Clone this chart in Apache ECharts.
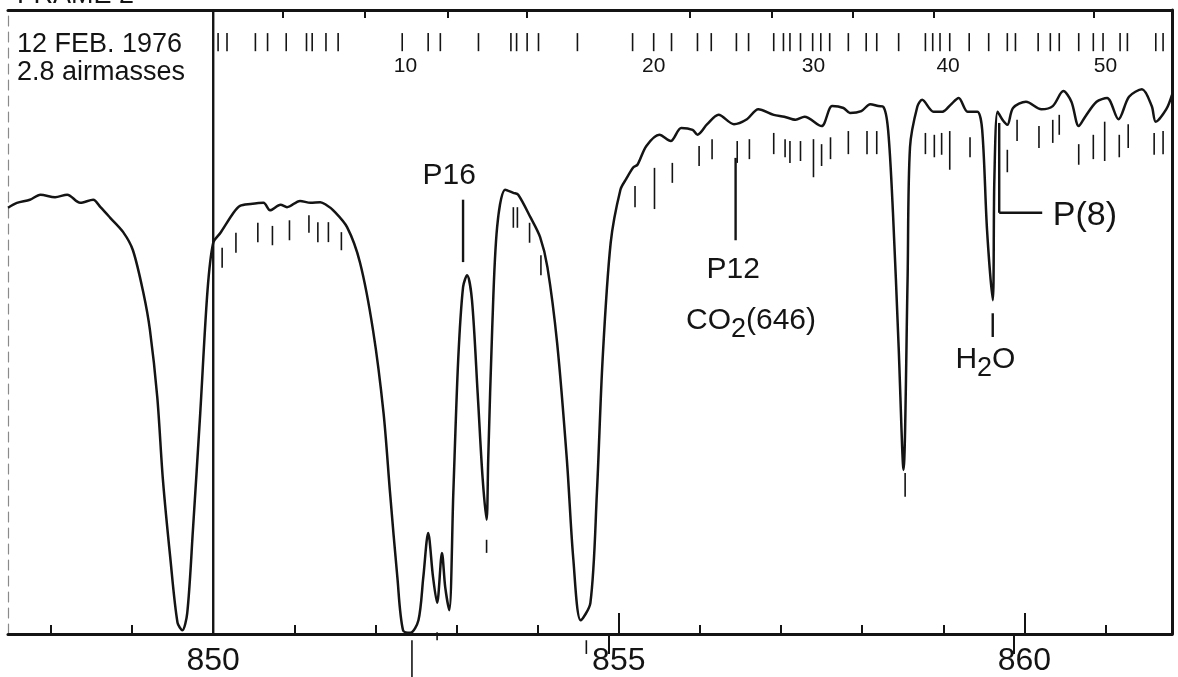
<!DOCTYPE html>
<html>
<head>
<meta charset="utf-8">
<script src="https://cdn.jsdelivr.net/npm/echarts@6/dist/echarts.min.js"></script>
<style>
  html, body { margin: 0; padding: 0; background: #fff; }
  #chart { width: 1178px; height: 677px; }
</style>
</head>
<body>
<div id="chart"></div>
<script>
'use strict';

// spectrum trace: wavenumber (cm-1) and relative signal (0 = bottom frame, 100 = top frame)
var wavenumber = [
    847.47, 847.58, 847.74, 847.87, 848.05, 848.20, 848.36, 848.52, 848.61, 848.73,
    848.89, 849.01, 849.14, 849.22, 849.31, 849.38, 849.47, 849.56, 849.62, 849.68,
    849.75, 849.84, 849.93, 850.00, 850.09, 850.25, 850.33, 850.46, 850.62, 850.70,
    850.83, 850.91, 851.07, 851.20, 851.32, 851.39, 851.48, 851.65, 851.81, 851.97,
    852.10, 852.18, 852.27, 852.34, 852.43, 852.53, 852.59, 852.65, 852.71, 852.76,
    852.82, 852.86, 852.91, 852.96, 853.02, 853.08, 853.13, 853.19, 853.26, 853.32,
    853.37, 853.39, 853.44, 853.50, 853.60, 853.70, 853.76, 853.91, 854.03, 854.12,
    854.24, 854.36, 854.44, 854.53, 854.65, 854.73, 854.80, 854.90, 855.02, 855.09,
    855.18, 855.23, 855.34, 855.50, 855.64, 855.77, 855.91, 855.97, 856.09, 856.23,
    856.42, 856.58, 856.72, 856.91, 857.04, 857.18, 857.29, 857.50, 857.63, 857.77,
    857.85, 857.99, 858.10, 858.20, 858.26, 858.32, 858.38, 858.45, 858.51, 858.56,
    858.59, 858.68, 858.74, 858.88, 858.99, 859.09, 859.19, 859.30, 859.42, 859.48,
    859.54, 859.61, 859.63, 859.67, 859.73, 859.79, 859.86, 860.02, 860.21, 860.35,
    860.48, 860.58, 860.67, 860.75, 860.89, 861.02, 861.16, 861.29, 861.45, 861.57,
    861.62, 861.75, 861.82
];
var signal = [
    68.3, 69.1, 69.6, 70.4, 70.0, 70.4, 69.1, 69.6, 68.4, 66.7,
    64.4, 61.5, 54.6, 48.7, 38.0, 24.7, 12.3, 1.8, 0.6, 3.4,
    16.7, 35.4, 55.1, 62.7, 64.3, 67.5, 68.6, 68.9, 69.1, 67.9,
    68.8, 68.4, 69.4, 69.1, 69.2, 68.8, 67.9, 65.2, 59.5, 48.7,
    35.4, 22.6, 9.1, 0.6, 0.2, 2.2, 9.1, 16.2, 9.1, 5.0,
    13.0, 7.5, 3.8, 22.6, 43.9, 55.6, 57.5, 53.5, 38.6, 25.2,
    18.3, 27.9, 49.2, 65.2, 71.2, 70.7, 70.4, 66.8, 63.6, 58.8,
    46.6, 27.9, 11.9, 2.2, 5.0, 22.6, 43.9, 62.7, 71.2, 72.9,
    74.8, 75.2, 78.2, 80.0, 79.0, 81.1, 80.8, 80.0, 81.7, 83.2,
    81.7, 82.5, 84.1, 83.2, 82.9, 82.4, 82.9, 81.4, 84.6, 84.3,
    83.5, 83.8, 84.9, 84.6, 84.5, 80.8, 67.5, 46.0, 26.3, 56.7,
    78.0, 84.5, 85.6, 83.7, 83.7, 84.8, 85.9, 83.7, 83.7, 80.8,
    64.7, 53.5, 72.8, 83.7, 82.4, 81.6, 84.3, 85.3, 84.1, 84.6,
    87.0, 85.3, 81.4, 82.9, 85.3, 85.9, 82.5, 86.1, 87.3, 84.6,
    82.1, 84.1, 86.4
];

// axis ticks
var axisLabels = [850, 855, 860];
var majorTicks = [855, 860];
var minorTicks = [848, 849, 851, 852, 853, 854, 856, 857, 858, 859, 861];
var topTicks = [850.86, 851.87, 852.89, 853.87, 855.88, 856.89, 857.89, 858.88, 860.86];
var topLongTicks = [854.87, 859.87];

// identification marks along the top row, and their numbering
var topRowMarks = [
    850.06, 850.17, 850.52, 850.67, 850.90, 851.15, 851.22, 851.39, 851.54,
    852.33, 852.65, 852.80, 853.27, 853.67, 853.74, 853.87, 854.01, 854.49,
    855.17, 855.43, 855.65, 855.97, 856.14, 856.45, 856.60, 856.91, 857.03,
    857.11, 857.24, 857.39, 857.49, 857.60, 857.83, 858.05, 858.18, 858.45,
    858.78, 858.87, 858.96, 859.08, 859.32, 859.56, 859.79, 859.89, 860.17,
    860.32, 860.43, 860.67, 860.85, 860.97, 861.18, 861.27, 861.62, 861.71
];
var topRowNumbers = ['10', '20', '30', '40', '50'];
var topRowNumberPos = [852.37, 855.43, 857.40, 859.06, 861.00];

// short line marks under the trace: [wavenumber, upper end, lower end]
var lineMarks = [
    [850.11, 61.9, 58.7], [850.28, 64.3, 61.1], [850.55, 65.9, 62.8], [850.73, 65.4, 62.3],
    [850.94, 66.3, 63.1], [851.18, 67.1, 64.3], [851.29, 66.0, 62.8], [851.42, 66.0, 62.8],
    [851.58, 64.4, 61.5], [853.70, 68.4, 65.1], [853.75, 68.4, 65.1], [853.90, 65.9, 62.7],
    [854.04, 60.7, 57.5], [853.37, 15.1, 13.0], [852.76, 0.3, -1.0], [855.20, 71.8, 68.4],
    [855.44, 74.7, 68.1], [855.66, 75.5, 72.3], [855.99, 78.2, 75.0], [856.15, 79.3, 76.1],
    [856.46, 79.0, 75.5], [856.61, 79.3, 76.1], [856.91, 80.3, 76.9], [857.05, 79.3, 76.4],
    [857.11, 79.0, 75.5], [857.24, 79.0, 75.8], [857.40, 79.3, 73.2], [857.50, 78.5, 75.0],
    [857.61, 79.6, 76.1], [857.83, 80.6, 76.9], [858.06, 80.6, 76.9], [858.18, 80.6, 76.9],
    [858.53, 25.8, 22.0], [858.78, 80.3, 76.9], [858.89, 80.0, 76.4], [858.98, 80.3, 76.8],
    [859.08, 80.6, 74.4], [859.33, 79.6, 76.4], [859.79, 77.6, 74.0], [859.91, 82.4, 79.0],
    [860.18, 81.4, 77.9], [860.35, 82.4, 78.7], [860.43, 83.2, 80.0], [860.67, 78.5, 75.2],
    [860.85, 80.0, 76.1], [860.99, 82.1, 75.8], [861.17, 80.0, 76.4], [861.28, 81.7, 77.9],
    [861.60, 80.3, 76.8], [861.71, 80.6, 76.9],
    [852.45, -1.0, -7.0], [854.60, -1.0, -3.2]
];

// annotation pointers: [x1, y1, x2, y2]
var pointers = [
    [850.00, 100, 850.00, 0],
    [853.08, 69.6, 853.08, 59.6],
    [856.44, 76.3, 856.44, 63.1],
    [859.61, 51.4, 859.61, 47.6],
    [859.69, 81.9, 859.69, 67.5],
    [859.69, 67.5, 860.22, 67.5]
];

// line names
var lineNames = ['P16', 'P12', 'CO{s|2}(646)', 'H{s|2}O'];
var lineNamePos = [[852.91, 73.4], [856.41, 58.3], [856.63, 50.2], [859.52, 43.9]];
var sideName = 'P(8)';
var sideNamePos = [860.35, 67.1];

// header
var header = ['FRAME 2', '12 FEB. 1976', '2.8 airmasses'];
var headerPos = [[847.58, 102.3], [847.58, 94.4], [847.58, 89.9]];

var X_MIN = 847.47, X_MAX = 861.82;
var INK = '#141414';
var FONT = 'Liberation Sans';

var chart = echarts.init(document.getElementById('chart'));

var curve = wavenumber.map(function (w, i) { return [w, signal[i]]; });

function baseX(pos) {
    return {
        type: 'value', min: X_MIN, max: X_MAX, position: pos,
        axisLine: { show: false },
        axisTick: { show: false },
        axisLabel: { show: false },
        splitLine: { show: false }
    };
}

var xBottom = baseX('bottom');
xBottom.axisLine = { show: true, onZero: false, lineStyle: { color: INK, width: 3 } };
xBottom.axisTick = { show: true, inside: true, length: 21, customValues: majorTicks, lineStyle: { color: INK, width: 2 } };
xBottom.axisLabel = { show: true, customValues: axisLabels, margin: 11, fontSize: 32, color: INK, fontFamily: FONT };

var xBottomMinor = baseX('bottom');
xBottomMinor.axisTick = { show: true, inside: true, length: 9, customValues: minorTicks, lineStyle: { color: INK, width: 2 } };

var xTop = baseX('top');
xTop.axisLine = { show: true, onZero: false, lineStyle: { color: INK, width: 3 } };
xTop.axisTick = { show: true, inside: true, length: 8, customValues: topTicks, lineStyle: { color: INK, width: 2 } };

var xTopLong = baseX('top');
xTopLong.axisTick = { show: true, inside: true, length: 20, customValues: topLongTicks, lineStyle: { color: INK, width: 2 } };

function vBar(width) {
    return function (params, api) {
        var a = api.coord([api.value(0), api.value(1)]);
        var b = api.coord([api.value(0), api.value(2)]);
        return {
            type: 'line',
            shape: { x1: a[0], y1: a[1], x2: b[0], y2: b[1] },
            style: { stroke: INK, lineWidth: width }
        };
    };
}

var richSub = { s: { fontSize: 27, fontFamily: FONT, fill: INK, lineHeight: 20, verticalAlign: 'bottom' } };

function textItem(texts, size, align, rich) {
    return function (params, api) {
        var p = api.coord([api.value(0), api.value(1)]);
        return {
            type: 'text',
            x: p[0], y: p[1],
            style: {
                text: texts[params.dataIndex],
                fill: INK,
                font: size + 'px "' + FONT + '"',
                align: align,
                verticalAlign: 'middle',
                lineHeight: rich ? 44 : size,
                rich: rich || {}
            }
        };
    };
}

var option = {
    backgroundColor: '#ffffff',
    animation: false,
    grid: { left: 8, right: 6, top: 10, bottom: 43, containLabel: false },
    xAxis: [xBottom, xBottomMinor, xTop, xTopLong],
    yAxis: [{
        type: 'value', min: 0, max: 100, position: 'left',
        axisLine: { show: true, lineStyle: { color: '#8a8a8a', width: 1.2, type: [10, 6] } },
        axisTick: { show: false }, axisLabel: { show: false }, splitLine: { show: false }
    }, {
        type: 'value', min: 0, max: 100, position: 'right',
        axisLine: { show: true, lineStyle: { color: INK, width: 3 } },
        axisTick: { show: false }, axisLabel: { show: false }, splitLine: { show: false }
    }],
    series: [{
        name: 'spectrum',
        type: 'line',
        data: curve,
        smooth: 0.3,
        showSymbol: false,
        lineStyle: { color: INK, width: 2.5 },
        z: 5
    }, {
        name: 'line marks',
        type: 'custom',
        clip: false,
        renderItem: vBar(1.6),
        encode: { x: 0, y: [1, 2] },
        data: lineMarks
    }, {
        name: 'top row',
        type: 'custom',
        clip: false,
        renderItem: vBar(1.6),
        encode: { x: 0, y: [1, 2] },
        data: topRowMarks.map(function (w) { return [w, 96.3, 93.4]; })
    }, {
        name: 'top row numbers',
        type: 'custom',
        clip: false,
        renderItem: textItem(topRowNumbers, 21, 'center'),
        encode: { x: 0, y: 1 },
        data: topRowNumberPos.map(function (w) { return [w, 91.0]; })
    }, {
        name: 'pointers',
        type: 'custom',
        clip: false,
        renderItem: function (params, api) {
            var a = api.coord([api.value(0), api.value(1)]);
            var b = api.coord([api.value(2), api.value(3)]);
            return {
                type: 'line',
                shape: { x1: a[0], y1: a[1], x2: b[0], y2: b[1] },
                style: { stroke: INK, lineWidth: 2.4 }
            };
        },
        encode: { x: [0, 2], y: [1, 3] },
        data: pointers
    }, {
        name: 'line names',
        type: 'custom',
        clip: false,
        renderItem: textItem(lineNames, 30, 'center', richSub),
        encode: { x: 0, y: 1 },
        data: lineNamePos
    }, {
        name: 'side name',
        type: 'custom',
        clip: false,
        renderItem: textItem([sideName], 34, 'left'),
        encode: { x: 0, y: 1 },
        data: [sideNamePos]
    }, {
        name: 'header',
        type: 'custom',
        clip: false,
        renderItem: textItem(header, 27, 'left'),
        encode: { x: 0, y: 1 },
        data: headerPos
    }]
};

chart.setOption(option);
</script>
</body>
</html>
